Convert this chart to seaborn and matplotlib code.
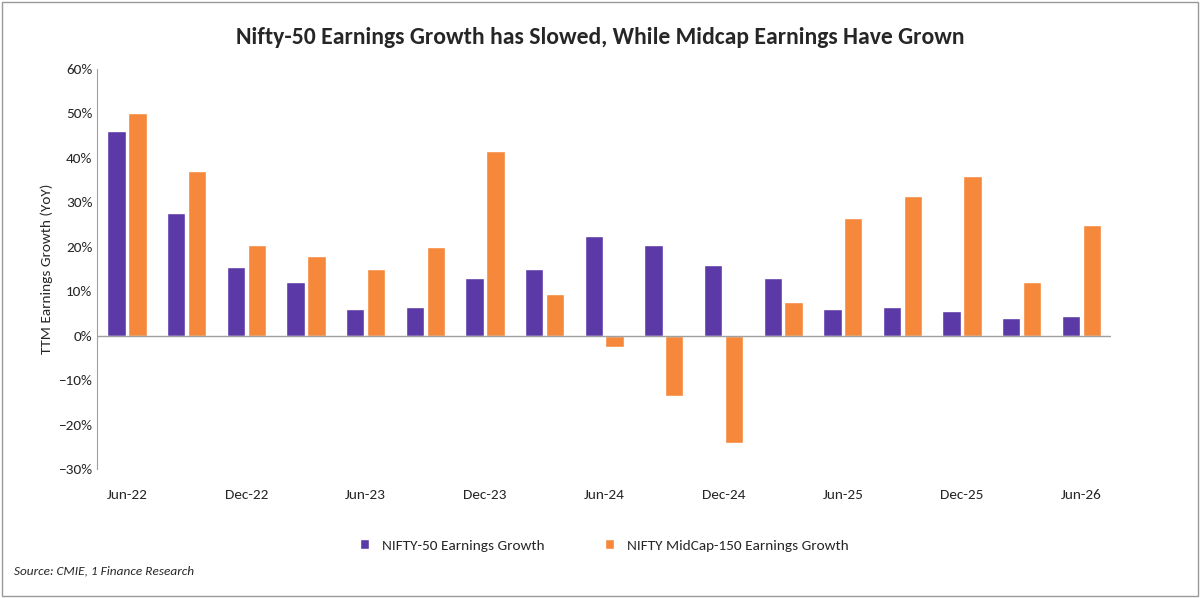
import matplotlib
matplotlib.use("Agg")
import matplotlib.pyplot as plt
import seaborn as sns
import pandas as pd
from matplotlib.ticker import PercentFormatter

periods = ["Jun-22", "Sep-22", "Dec-22", "Mar-23", "Jun-23", "Sep-23", "Dec-23", "Mar-24",
           "Jun-24", "Sep-24", "Dec-24", "Mar-25", "Jun-25", "Sep-25", "Dec-25", "Mar-26", "Jun-26"]
nifty50 = [46, 27.5, 15.5, 12, 6, 6.5, 13, 15, 22.5, 20.5, 16, 13, 6, 6.5, 5.5, 4, 4.5]
midcap = [50, 37, 20.5, 18, 15, 20, 41.5, 9.5, -2.5, -13.5, -24, 7.5, 26.5, 31.5, 36, 12, 25]
s1 = "NIFTY-50 Earnings Growth"
s2 = "NIFTY MidCap-150 Earnings Growth"

df = pd.DataFrame({"period": periods * 2,
                   "value": nifty50 + midcap,
                   "series": [s1] * len(periods) + [s2] * len(periods)})

sns.set_style("white")
plt.rcParams["font.family"] = ["Carlito", "Lato", "DejaVu Sans"]

fig = plt.figure(figsize=(12, 5.98), dpi=100)
ax = fig.add_axes([0.081, 0.215, 0.845, 0.67])
sns.barplot(data=df, x="period", y="value", hue="series", order=periods,
            palette=["#5B3AA8", "#F5883A"], saturation=1, width=0.7, gap=0.12, ax=ax)

ax.set_ylim(-30, 60)
ax.set_yticks(range(-30, 61, 10))
ax.yaxis.set_major_formatter(PercentFormatter(decimals=0))
ax.set_xticks(range(len(periods)))
ax.set_xticklabels([p if i % 2 == 0 else "" for i, p in enumerate(periods)])
ax.tick_params(axis="x", length=0, pad=14)
ax.tick_params(axis="y", length=0, labelsize=11)
ax.tick_params(axis="x", labelsize=11)
for sp in ["top", "right", "bottom"]:
    ax.spines[sp].set_visible(False)
ax.spines["left"].set_color("#a0a0a0")
ax.axhline(0, color="#a0a0a0", lw=1)
ax.set_xlabel("")
ax.set_ylabel("TTM Earnings Growth (YoY)", fontsize=11)
ax.set_xlim(-0.5, len(periods) - 0.5)

ax.legend(loc="center", bbox_to_anchor=(0.5, -0.19), ncol=2, frameon=False,
          fontsize=11, handlelength=0.6, handleheight=0.6, columnspacing=4)
fig.suptitle("Nifty-50 Earnings Growth has Slowed, While Midcap Earnings Have Grown",
             fontsize=17, fontweight="bold", y=0.955)
fig.text(0.012, 0.04, "Source: CMIE, 1 Finance Research", fontsize=9.5, style="italic")
fig.patches.append(plt.Rectangle((0.002, 0.003), 0.996, 0.994, transform=fig.transFigure,
                                 fill=False, edgecolor="#999999", lw=1))
fig.savefig("out.png", dpi=100)
